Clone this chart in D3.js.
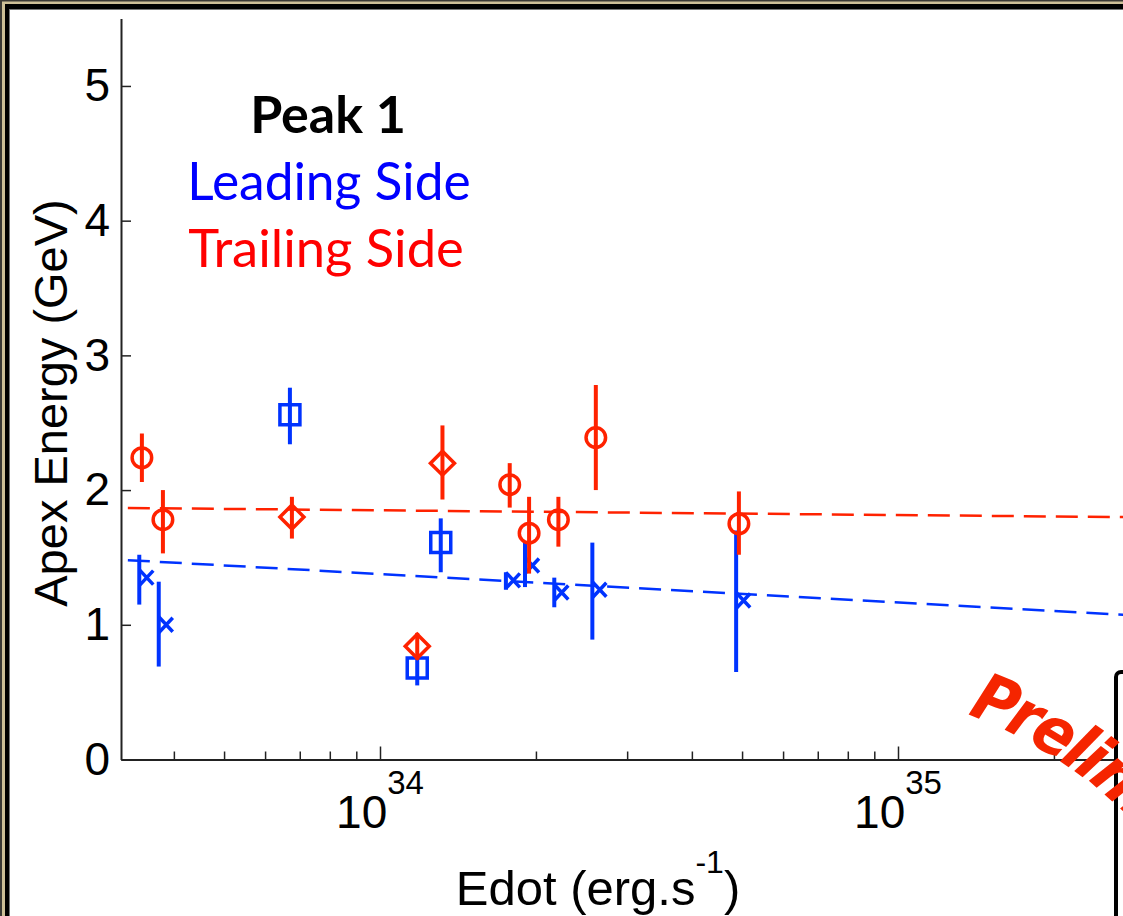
<!DOCTYPE html>
<html lang="en">
<head>
    <meta charset="UTF-8">
    <title>Peak 1 - Apex Energy vs Edot</title>
    <script src="https://cdn.jsdelivr.net/npm/d3@7"></script>
    <style>
        body { margin: 0; background: white; }
        svg { display: block; }
    </style>
</head>
<body>
    <script>
        // spin-down power (erg/s) and apex energy (GeV)
        var edotLead  = [3.43e33, 3.74e33, 6.70e33, 1.31e34, 1.18e34, 1.75e34, 1.905e34, 2.17e34, 2.57e34, 4.87e34];
        var eLead     = [1.35, 1.00, 2.56, 1.61, 0.68, 1.33, 1.44, 1.24, 1.26, 1.18];
        var eLeadHi   = [1.52, 1.32, 2.76, 1.79, 0.76, 1.39, 1.61, 1.35, 1.61, 1.70];
        var eLeadLo   = [1.15, 0.69, 2.34, 1.39, 0.55, 1.26, 1.28, 1.13, 0.89, 0.65];
        var markLead  = ["x", "x", "s", "s", "s", "x", "x", "x", "x", "x"];

        var edotTrail = [3.47e33, 3.81e33, 6.76e33, 1.32e34, 1.18e34, 1.78e34, 1.94e34, 2.21e34, 2.61e34, 4.93e34];
        var eTrail    = [2.24, 1.78, 1.80, 2.20, 0.84, 2.04, 1.68, 1.78, 2.39, 1.75];
        var eTrailHi  = [2.42, 2.00, 1.95, 2.48, 0.94, 2.20, 1.95, 1.95, 2.78, 1.99];
        var eTrailLo  = [2.06, 1.53, 1.64, 1.93, 0.74, 1.87, 1.38, 1.58, 2.00, 1.52];
        var markTrail = ["o", "o", "d", "d", "d", "o", "o", "o", "o", "o"];

        // fitted trend lines (end points)
        var fitEdot  = [3.26e33, 3.16e35];
        var fitLead  = [1.48, 1.06];
        var fitTrail = [1.867, 1.797];

        var yTicks = [0, 1, 2, 3, 4, 5];
        var xMajor = [1e34, 1e35];
        var xMinor = [4e33, 5e33, 6e33, 7e33, 8e33, 9e33, 2e34, 3e34, 4e34, 5e34, 6e34, 7e34, 8e34, 9e34, 2e35, 3e35];
        var xExp   = ["34", "35"];

        var width = 1123, height = 916;
        var red = "#ff2200", blue = "#0033ff";
        var axisFont = "'Liberation Sans', Arial, Helvetica, sans-serif";

        var svg = d3.select("body")
            .append("svg")
            .attr("width", width)
            .attr("height", height);

        // slide frame (beige / black border on left and top)
        svg.append("rect").attr("width", width).attr("height", height).attr("fill", "#3b3935");
        svg.append("rect").attr("x", 2).attr("y", 1.5).attr("width", width).attr("height", height).attr("fill", "#cdbf97");
        svg.append("rect").attr("x", 5).attr("y", 4).attr("width", width).attr("height", height).attr("fill", "#000");
        svg.append("rect").attr("x", 9).attr("y", 9).attr("width", width).attr("height", height).attr("fill", "#777");
        svg.append("rect").attr("x", 10).attr("y", 10).attr("width", width).attr("height", height).attr("fill", "#fff");

        var x = d3.scaleLog().domain([Math.pow(10, 33.5), Math.pow(10, 35.5)]).range([121, 1157]);
        var y = d3.scaleLinear().domain([0, 5.5]).range([759.5, 18.6]);

        // axes
        var yAxis = svg.append("g")
            .attr("transform", "translate(121,0)")
            .call(d3.axisLeft(y).tickValues(yTicks).tickFormat(d3.format("d"))
                .tickSizeInner(-10).tickSizeOuter(0).tickPadding(11));
        yAxis.selectAll("text")
            .attr("font-family", axisFont)
            .attr("font-size", 46)
            .attr("fill", "#000");

        svg.append("g")
            .attr("transform", "translate(0,759.5)")
            .call(d3.axisBottom(x).tickValues(xMajor).tickSizeInner(-13).tickSizeOuter(0).tickFormat(""));
        svg.append("g")
            .attr("transform", "translate(0,759.5)")
            .call(d3.axisBottom(x).tickValues(xMinor).tickSizeInner(-8).tickSizeOuter(0).tickFormat(""))
            .select(".domain").remove();

        svg.selectAll(".domain").attr("stroke", "#222").attr("stroke-width", 2);
        svg.selectAll(".tick line").attr("stroke", "#222").attr("stroke-width", 1.5);

        var xLab = svg.selectAll(".xlab")
            .data(xMajor)
            .enter()
            .append("text")
            .attr("class", "xlab")
            .attr("x", function(d){ return x(d); })
            .attr("y", 828)
            .attr("text-anchor", "middle")
            .attr("font-family", axisFont)
            .attr("font-size", 46);
        xLab.append("tspan").text("10");
        xLab.append("tspan")
            .attr("dy", -34)
            .attr("font-size", 33)
            .text(function(d, i){ return xExp[i]; });

        // axis titles
        var xTitle = svg.append("text")
            .attr("x", 598)
            .attr("y", 905)
            .attr("text-anchor", "middle")
            .attr("font-family", axisFont)
            .attr("font-size", 49);
        xTitle.append("tspan").text("Edot (erg.s");
        xTitle.append("tspan").attr("dy", -32).attr("font-size", 32).text("-1");
        xTitle.append("tspan").attr("dy", 32).text(")");

        svg.append("text")
            .attr("transform", "translate(67,403) rotate(-90)")
            .attr("text-anchor", "middle")
            .attr("font-family", axisFont)
            .attr("font-size", 47)
            .text("Apex Energy (GeV)");

        // trend lines
        var line = d3.line()
            .x(function(d){ return x(d[0]); })
            .y(function(d){ return y(d[1]); });

        svg.append("path")
            .datum(d3.zip(fitEdot, fitLead))
            .attr("d", line)
            .attr("fill", "none")
            .attr("stroke", blue)
            .attr("stroke-width", 2.5)
            .attr("stroke-dasharray", "22,10");
        svg.append("path")
            .datum(d3.zip(fitEdot, fitTrail))
            .attr("d", line)
            .attr("fill", "none")
            .attr("stroke", red)
            .attr("stroke-width", 2.5)
            .attr("stroke-dasharray", "22,10");

        function drawSeries(edot, val, hi, lo, marks, color){
            var rows = d3.range(edot.length).map(function(i){
                return {e: edot[i], v: val[i], hi: hi[i], lo: lo[i], m: marks[i]};
            });
            var g = svg.append("g");
            g.selectAll("line")
                .data(rows)
                .enter()
                .append("line")
                .attr("x1", function(d){ return x(d.e); })
                .attr("x2", function(d){ return x(d.e); })
                .attr("y1", function(d){ return y(d.lo); })
                .attr("y2", function(d){ return y(d.hi); })
                .attr("stroke", color)
                .attr("stroke-width", 4);
            g.selectAll("path")
                .data(rows)
                .enter()
                .append("path")
                .attr("d", function(d){
                    if(d.m == "o") return d3.symbol(d3.symbolCircle, 300)();
                    if(d.m == "d") return "M0,-12L12,0L0,12L-12,0Z";
                    if(d.m == "s") return "M-10,-10H10V10H-10Z";
                    return "M0,-8L14,7M0,8L14,-7";
                })
                .attr("transform", function(d){ return "translate(" + x(d.e) + "," + y(d.v) + ")"; })
                .attr("fill", "none")
                .attr("stroke", color)
                .attr("stroke-width", 3.5);
        }
        drawSeries(edotLead, eLead, eLeadHi, eLeadLo, markLead, blue);
        drawSeries(edotTrail, eTrail, eTrailHi, eTrailLo, markTrail, red);

        // legend text
        var legendFont = "Lato, 'Open Sans', sans-serif";
        svg.append("text").attr("x", 328).attr("y", 133).attr("text-anchor", "middle")
            .attr("font-family", legendFont).attr("font-weight", "bold").attr("font-size", 52)
            .attr("fill", "#000").text("Peak 1");
        svg.append("text").attr("x", 329).attr("y", 200).attr("text-anchor", "middle")
            .attr("font-family", legendFont).attr("font-size", 51.5)
            .attr("fill", "#0000ff").text("Leading Side");
        svg.append("text").attr("x", 326).attr("y", 267).attr("text-anchor", "middle")
            .attr("font-family", legendFont).attr("font-size", 52.5)
            .attr("fill", "#ff0000").text("Trailing Side");

        // box cut off at the lower right
        svg.append("rect")
            .attr("x", 1116).attr("y", 672)
            .attr("width", 200).attr("height", 400)
            .attr("rx", 5)
            .attr("fill", "#fff")
            .attr("stroke", "#000")
            .attr("stroke-width", 4);

        // "Preliminary" stamp along an arc
        var cxArc = 817, cyArc = 1128, rArc = 440;
        var a0 = -70 * Math.PI / 180, a1 = -10 * Math.PI / 180;
        svg.append("defs").append("path")
            .attr("id", "prelimArc")
            .attr("d", "M" + (cxArc + rArc * Math.cos(a0)) + "," + (cyArc + rArc * Math.sin(a0)) +
                " A" + rArc + "," + rArc + " 0 0 1 " + (cxArc + rArc * Math.cos(a1)) + "," + (cyArc + rArc * Math.sin(a1)));
        svg.append("text")
            .attr("font-family", "'Liberation Sans Narrow', 'DejaVu Sans Condensed', sans-serif")
            .attr("font-weight", "bold")
            .attr("font-style", "italic")
            .attr("font-size", 66)
            .attr("letter-spacing", -3)
            .attr("fill", "#f52500")
            .append("textPath")
            .attr("href", "#prelimArc")
            .text("Preliminary");
    </script>
</body>
</html>
